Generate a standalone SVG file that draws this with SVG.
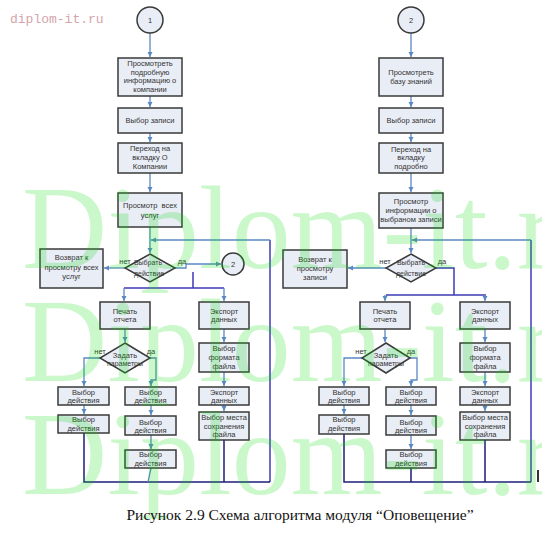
<svg xmlns="http://www.w3.org/2000/svg" width="542" height="534" viewBox="0 0 542 534">
<style>
.b{fill:#e9edf6;stroke:#3a3a3a;stroke-width:1.5}
.t{font-family:"Liberation Sans",Arial,sans-serif;font-size:7.5px;fill:#333;text-anchor:middle}
.s{font-size:7px}
.c{fill:none;stroke:#5a88c2;stroke-width:1.3}
.d{fill:none;stroke:#3c3cb4;stroke-width:1.5}
.n{fill:none;stroke:#1e1e78;stroke-width:1.5}
.wm{font-family:"Liberation Serif","Times New Roman",serif;font-size:118px;fill:#00dd00;opacity:0.2}
</style>
<defs>
<marker id="a" markerWidth="6" markerHeight="6" refX="5" refY="3" orient="auto" markerUnits="userSpaceOnUse"><path d="M0,0.5 L5,3 L0,5.5z" fill="#5a88c2"/></marker>
</defs>
<rect width="542" height="534" fill="#fff"/>
<text x="10" y="23" font-family="'Liberation Mono','Courier New',monospace" font-size="13" fill="#d4a4ac">diplom-it.ru</text>

<g id="connectors">
<!-- left -->
<path class="c" d="M150,33V57" marker-end="url(#a)"/>
<path class="c" d="M150,96V107" marker-end="url(#a)"/>
<path class="c" d="M150,133V142" marker-end="url(#a)"/>
<path class="c" d="M150,173V192" marker-end="url(#a)"/>
<path class="c" d="M150,227V253" marker-end="url(#a)"/>
<path class="d" d="M270,482V240"/>
<path class="c" d="M270,240H151" marker-end="url(#a)"/>
<path class="c" d="M125,268H104" marker-end="url(#a)"/>
<path class="c" d="M175,268H186V264H221" marker-end="url(#a)"/>
<path class="d" d="M193,272V288M124,288H224"/>
<path class="c" d="M124,288V301" marker-end="url(#a)"/>
<path class="c" d="M224,288V301" marker-end="url(#a)"/>
<path class="c" d="M125,329V342" marker-end="url(#a)"/>
<path class="c" d="M100,358H84V386" marker-end="url(#a)"/>
<path class="c" d="M150,358H156V380H151V386" marker-end="url(#a)"/>
<path class="c" d="M84,405V414" marker-end="url(#a)"/>
<path class="c" d="M151,405V415" marker-end="url(#a)"/>
<path class="c" d="M151,435V449" marker-end="url(#a)"/>
<path class="c" d="M224,329V342" marker-end="url(#a)"/>
<path class="c" d="M224,372V386" marker-end="url(#a)"/>
<path class="c" d="M224,405V411" marker-end="url(#a)"/>
<path class="n" d="M84,433V482H270M224,440V482"/>
<path class="c" d="M151,468L148,482"/>
<!-- right -->
<path class="c" d="M411,33V57" marker-end="url(#a)"/>
<path class="c" d="M411,96V107" marker-end="url(#a)"/>
<path class="c" d="M411,133V142" marker-end="url(#a)"/>
<path class="c" d="M411,173V192" marker-end="url(#a)"/>
<path class="c" d="M411,228V253" marker-end="url(#a)"/>
<path class="d" d="M531,482V240"/>
<path class="c" d="M531,240H412" marker-end="url(#a)"/>
<path class="c" d="M386,268H348" marker-end="url(#a)"/>
<path class="d" d="M436,268H454V295M386,295H486"/>
<path class="c" d="M385,295V301" marker-end="url(#a)"/>
<path class="c" d="M485,295V301" marker-end="url(#a)"/>
<path class="c" d="M385,329V342" marker-end="url(#a)"/>
<path class="c" d="M362,358H344V386" marker-end="url(#a)"/>
<path class="c" d="M410,358H417V380H411V386" marker-end="url(#a)"/>
<path class="c" d="M344,405V414" marker-end="url(#a)"/>
<path class="c" d="M411,405V415" marker-end="url(#a)"/>
<path class="c" d="M411,435V449" marker-end="url(#a)"/>
<path class="c" d="M485,329V342" marker-end="url(#a)"/>
<path class="c" d="M485,372V386" marker-end="url(#a)"/>
<path class="c" d="M485,405V411" marker-end="url(#a)"/>
<path class="n" d="M344,434V482H531M485,440V482M411,468V482"/>
<path d="M538,470V482" stroke="#333" stroke-width="2"/>
</g>

<!-- left diagram nodes -->
<g id="L-start"><circle class="b" cx="150" cy="20" r="13"/><text class="t" x="150" y="22.5">1</text></g>
<g id="L-view-company"><rect class="b" x="118" y="58" width="64" height="38"/><text class="t" x="150" y="65.8">Просмотреть</text><text class="t" x="150" y="74.5">подробную</text><text class="t" x="150" y="83.2">информацию о</text><text class="t" x="150" y="91.9">компании</text></g>
<g id="L-select"><rect class="b" x="118" y="108" width="64" height="25"/><text class="t" x="150" y="123">Выбор записи</text></g>
<g id="L-tab"><rect class="b" x="118" y="143" width="64" height="30"/><text class="t" x="150" y="151">Переход на</text><text class="t" x="150" y="160">вкладку О</text><text class="t" x="150" y="169">Компании</text></g>
<g id="L-services"><rect class="b" x="118" y="193" width="64" height="34"/><text class="t" x="150" y="207.6" xml:space="preserve">Просмотр  всех</text><text class="t" x="150" y="217.6">услуг</text></g>
<g id="L-choose"><path class="b" d="M150,254L175,268L150,282L125,268z"/><text class="t s" x="148" y="265">Выбрать</text><text class="t s" x="149" y="275.5">действие</text><text class="t" x="125" y="264">нет</text><text class="t" x="182" y="264">да</text></g>
<g id="L-return"><rect class="b" x="40" y="249" width="63" height="39"/><text class="t" x="71.5" y="260">Возврат к</text><text class="t" x="71.5" y="269.5">просмотру всех</text><text class="t" x="71.5" y="279">услуг</text></g>
<g id="L-to2"><circle class="b" cx="233" cy="264" r="11"/><text class="t" x="233" y="266.5">2</text></g>
<g id="L-print"><rect class="b" x="100" y="302" width="50" height="27"/><text class="t" x="125" y="313.5">Печать</text><text class="t" x="125" y="322">отчета</text></g>
<g id="L-export"><rect class="b" x="199" y="302" width="50" height="27"/><text class="t" x="224" y="313.5">Экспорт</text><text class="t" x="224" y="322">данных</text></g>
<g id="L-params"><path class="b" d="M125,343L150,358L125,373L100,358z"/><text class="t" x="125" y="357.5">Задать</text><text class="t s" x="125" y="365.5">параметры</text><text class="t" x="100" y="354">нет</text><text class="t" x="151" y="354">да</text></g>
<g id="L-a1"><rect class="b" x="58" y="387" width="51" height="18"/><text class="t" x="83.5" y="394.5">Выбор</text><text class="t" x="83.5" y="402.5">действия</text></g>
<g id="L-a2"><rect class="b" x="58" y="415" width="51" height="18"/><text class="t" x="83.5" y="421.5">Выбор</text><text class="t" x="83.5" y="430.5">действия</text></g>
<g id="L-b1"><rect class="b" x="125" y="387" width="51" height="18"/><text class="t" x="150.5" y="394.5">Выбор</text><text class="t" x="150.5" y="402.5">действия</text></g>
<g id="L-b2"><rect class="b" x="125" y="416" width="51" height="19"/><text class="t" x="150.5" y="424.5">Выбор</text><text class="t" x="150.5" y="432.5">действия</text></g>
<g id="L-b3"><rect class="b" x="125" y="450" width="51" height="18"/><text class="t" x="150.5" y="456.5">Выбор</text><text class="t" x="150.5" y="465.5">действия</text></g>
<g id="L-format"><rect class="b" x="199" y="343" width="50" height="29"/><text class="t" x="224" y="350.5">Выбор</text><text class="t" x="224" y="359.5">формата</text><text class="t" x="224" y="368.5">файла</text></g>
<g id="L-export2"><rect class="b" x="199" y="387" width="50" height="18"/><text class="t" x="224" y="394.5">Экспорт</text><text class="t" x="224" y="402.5">данных</text></g>
<g id="L-place"><rect class="b" x="199" y="412" width="50" height="28"/><text class="t" x="224" y="419.5">Выбор места</text><text class="t" x="224" y="428.5">сохранения</text><text class="t" x="224" y="436.5">файла</text></g>

<!-- right diagram nodes -->
<g id="R-start"><circle class="b" cx="411" cy="20" r="13"/><text class="t" x="411" y="22.5">2</text></g>
<g id="R-kb"><rect class="b" x="379" y="58" width="64" height="38"/><text class="t" x="411" y="74.5">Просмотреть</text><text class="t" x="411" y="83.5">базу знаний</text></g>
<g id="R-select"><rect class="b" x="379" y="108" width="64" height="25"/><text class="t" x="411" y="123">Выбор записи</text></g>
<g id="R-tab"><rect class="b" x="379" y="143" width="64" height="30"/><text class="t" x="411" y="151.5">Переход на</text><text class="t" x="411" y="160">вкладку</text><text class="t" x="411" y="168.5">подробно</text></g>
<g id="R-info"><rect class="b" x="379" y="193" width="64" height="35"/><text class="t" x="411" y="203.6">Просмотр</text><text class="t" x="411" y="212.6">информации о</text><text class="t" x="411" y="221.6">выбраном записи</text></g>
<g id="R-choose"><path class="b" d="M411,254L436,268L411,282L386,268z"/><text class="t s" x="411" y="265">Выбрать</text><text class="t s" x="411" y="275.5">действие</text><text class="t" x="385" y="264">нет</text><text class="t" x="442" y="264">да</text></g>
<g id="R-return"><rect class="b" x="283" y="250" width="64" height="38"/><text class="t" x="315" y="261.6">Возврат к</text><text class="t" x="315" y="270.6">просмотру</text><text class="t" x="315" y="279.6">записи</text></g>
<g id="R-print"><rect class="b" x="360" y="302" width="50" height="27"/><text class="t" x="385" y="313.5">Печать</text><text class="t" x="385" y="322">отчета</text></g>
<g id="R-export"><rect class="b" x="460" y="302" width="50" height="27"/><text class="t" x="485" y="313.5">Экспорт</text><text class="t" x="485" y="322">данных</text></g>
<g id="R-params"><path class="b" d="M386,343L410,358L386,373L362,358z"/><text class="t" x="386" y="357.5">Задать</text><text class="t s" x="386" y="365.5">параметры</text><text class="t" x="361" y="354">нет</text><text class="t" x="411" y="354">да</text></g>
<g id="R-a1"><rect class="b" x="319" y="387" width="50" height="18"/><text class="t" x="344" y="394.5">Выбор</text><text class="t" x="344" y="402.5">действия</text></g>
<g id="R-a2"><rect class="b" x="319" y="415" width="50" height="19"/><text class="t" x="344" y="421.5">Выбор</text><text class="t" x="344" y="430.5">действия</text></g>
<g id="R-b1"><rect class="b" x="386" y="387" width="50" height="18"/><text class="t" x="411" y="394.5">Выбор</text><text class="t" x="411" y="402.5">действия</text></g>
<g id="R-b2"><rect class="b" x="386" y="416" width="50" height="19"/><text class="t" x="411" y="424.5">Выбор</text><text class="t" x="411" y="432.5">действия</text></g>
<g id="R-b3"><rect class="b" x="386" y="450" width="50" height="18"/><text class="t" x="411" y="456.5">Выбор</text><text class="t" x="411" y="465.5">действия</text></g>
<g id="R-format"><rect class="b" x="460" y="343" width="50" height="29"/><text class="t" x="485" y="350.5">Выбор</text><text class="t" x="485" y="359.5">формата</text><text class="t" x="485" y="368.5">файла</text></g>
<g id="R-export2"><rect class="b" x="460" y="387" width="50" height="18"/><text class="t" x="485" y="394.5">Экспорт</text><text class="t" x="485" y="402.5">данных</text></g>
<g id="R-place"><rect class="b" x="460" y="412" width="50" height="28"/><text class="t" x="485" y="419.5">Выбор места</text><text class="t" x="485" y="428.5">сохранения</text><text class="t" x="485" y="436.5">файла</text></g>

<g id="watermark">
<text class="wm" x="22" y="268">Diplom-it.ru</text>
<text class="wm" x="22" y="381">Diplom-it.ru</text>
<text class="wm" x="22" y="494">Diplom-it.ru</text>
</g>
<text x="300" y="520" font-family="'Liberation Serif','Times New Roman',serif" font-size="15.5" fill="#111" text-anchor="middle">Рисунок 2.9 Схема алгоритма модуля “Оповещение”</text>
</svg>
